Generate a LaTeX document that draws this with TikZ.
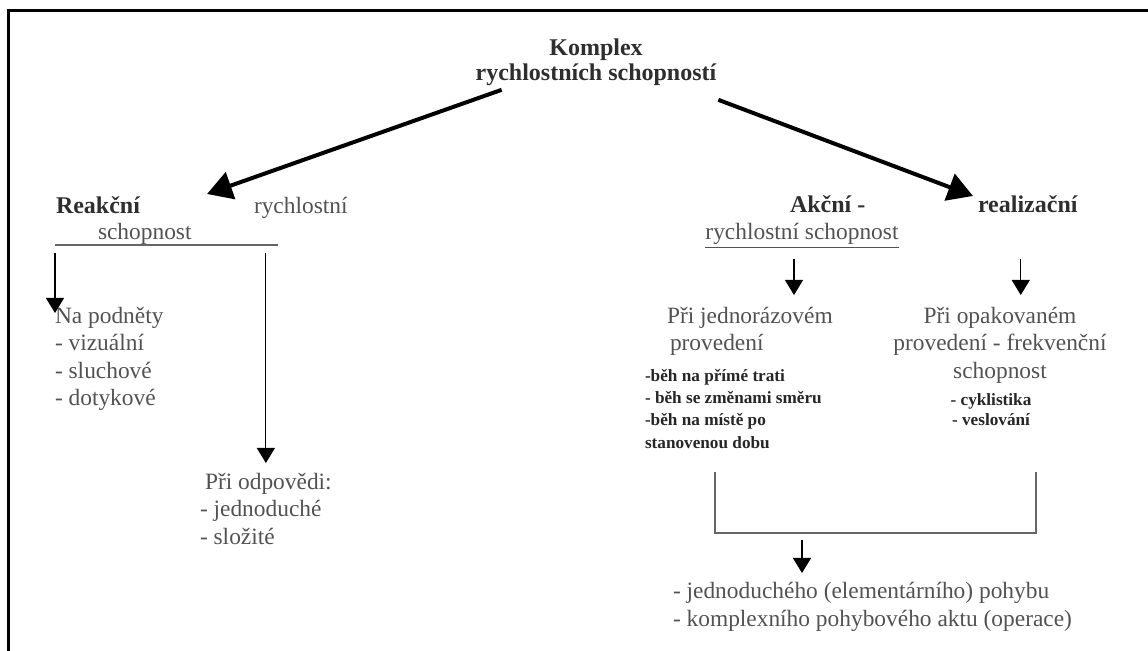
\documentclass[tikz,border=0pt]{standalone}
\usepackage{fontspec}
\setmainfont{Liberation Serif}
\usetikzlibrary{arrows.meta, positioning, calc}

\begin{document}
\begin{tikzpicture}[
  x=0.5pt, y=-0.5pt,
  every node/.style={inner sep=0pt, outer sep=0pt},
  txt/.style={text=black!68, font=\fontsize{11.7}{13.7}\selectfont, align=left},
  hdr/.style={text=black!82, font=\fontsize{12}{12.5}\selectfont\bfseries},
  lst/.style={text=black!85, font=\fontsize{8.6}{11.2}\selectfont\bfseries, align=left},
  bigarr/.style={-{Triangle[length=12.5pt, width=14pt]}, line width=2pt},
  darr/.style={-{Triangle[length=7.5pt, width=9pt]}, line width=0.6pt},
  rule/.style={black!60, line width=0.6pt},
]
\useasboundingbox (0,0) rectangle (1148,651);

%% ── Frame ─────────────────────────────────────────────────────────────────
\draw[line width=1.5pt] (8,651) -- (8,11) -- (1148,11);

%% ── Root ──────────────────────────────────────────────────────────────────
\node[hdr, align=center, anchor=north] (top) at (596,39)
  {Komplex\\rychlostních schopností};

%% ── Reaction speed ────────────────────────────────────────────────────────
\node[hdr, anchor=base west] (reak)  at (56,214)  {Reakční};
\node[txt, anchor=base west] (reakR) at (254,214) {rychlostní};
\node[txt, anchor=base west] (reakS) at (98,240)  {schopnost};
\coordinate (reakTip) at (207,194);
\coordinate (ruleL)   at (55,245);
\coordinate (ruleR)   at (278,245);

\node[txt, anchor=north west] (podn) at (55,307)
  {Na podněty\\- vizuální\\- sluchové\\- dotykové};
\node[txt, anchor=north west] (odpov) at (200,473)
  {\hspace*{2.5pt}Při odpovědi:\\- jednoduché\\- složité};

%% ── Action speed ──────────────────────────────────────────────────────────
\node[hdr, anchor=base west] (akc)  at (790,213) {Akční -};
\node[txt, anchor=base]      (akcS) at (802,240) {\underline{rychlostní schopnost}};
\node[hdr, anchor=base west] (real) at (978,213) {realizační};
\coordinate (realTip)  at (973,196);
\coordinate (akcFoot)  at ([xshift=-4pt]akcS.south);
\coordinate (realFoot) at ([xshift=-3.5pt]real.south);

\node[txt, anchor=north west] (jedn) at (667,307)
  {Při jednorázovém\\\hspace*{1.5pt}provedení};
\node[lst, anchor=north west] (jednL) at (645,369)
  {-běh na přímé trati\\- běh se změnami směru\\-běh na místě po\\stanovenou dobu};
\node[txt, align=center, anchor=north] (opak) at (1000,307)
  {Při opakovaném\\provedení - frekvenční\\schopnost};
\node[lst, align=center, anchor=north, font=\fontsize{8.6}{10}\selectfont\bfseries]
  (opakL) at (991,394) {- cyklistika\\- veslování};

%% ── Common outcome ────────────────────────────────────────────────────────
\coordinate (brL)    at (715,472);
\coordinate (brR)    at (1036,472);
\coordinate (brJoin) at (802,533);
\node[txt, anchor=north west, font=\fontsize{11.7}{14.2}\selectfont] (elem) at (673,582)
  {- jednoduchého (elementárního) pohybu\\- komplexního pohybového aktu (operace)};

%% ── Connectors ────────────────────────────────────────────────────────────
\draw[bigarr] ([xshift=13pt, yshift=-2pt]top.south west) -- (reakTip);
\draw[bigarr] ([xshift=1pt, yshift=-7pt]top.south east) -- (realTip);

\draw[rule] (ruleL) -- (ruleR);
\draw[darr, shorten <=4pt, shorten >=-3pt] (ruleL) -- (ruleL |- podn.north);
\draw[darr, shorten <=4pt, shorten >=5pt] (ruleR -| odpov.north) -- (odpov.north);

\draw[darr, shorten <=5pt, shorten >=6pt] (akcFoot) -- (akcFoot |- jedn.north);
\draw[darr, shorten <=5pt, shorten >=6pt] (realFoot |- akcFoot) -- (realFoot |- opak.north);

\draw[rule] (brL) |- (brJoin) -| (brR);
\draw[darr, shorten <=3.5pt, shorten >=4.5pt] (brJoin) -- (brJoin |- elem.north);

\end{tikzpicture}
\end{document}
